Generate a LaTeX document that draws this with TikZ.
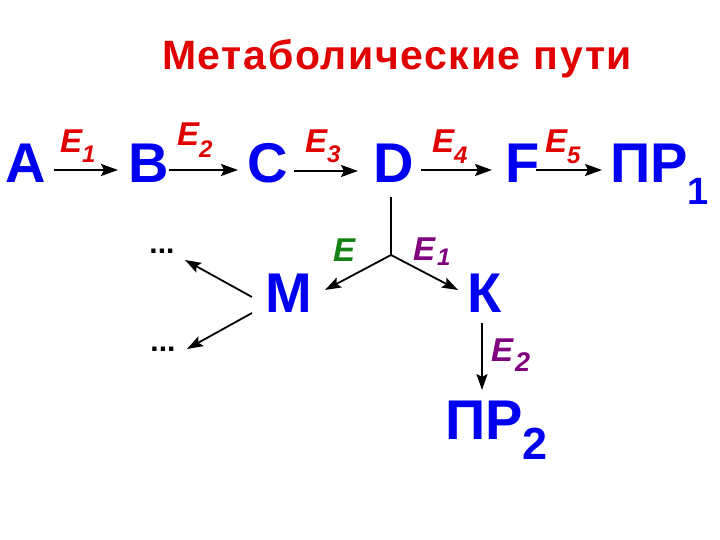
\documentclass[tikz,border=0pt]{standalone}
\usepackage{fontspec}
\setmainfont{Liberation Sans}
\usetikzlibrary{arrows.meta,calc}
\definecolor{cblue}{RGB}{0,0,240}
\definecolor{cred}{RGB}{225,0,0}
\definecolor{cgreen}{RGB}{20,130,20}
\definecolor{cpurple}{RGB}{128,0,128}
\begin{document}
\begin{tikzpicture}[x=1pt,y=1pt,
  big/.style={inner sep=0pt,anchor=base west,text=cblue,font=\fontsize{56}{56}\selectfont\bfseries},
  elab/.style={inner sep=0pt,anchor=base west,font=\fontsize{33}{33}\selectfont\bfseries\itshape},
  arr/.style={line width=2.3pt,-{Stealth[length=17pt,width=12pt,inset=3pt]}},
  thinarr/.style={line width=1.8pt,-{Stealth[length=16pt,width=11pt,inset=3pt]}},
  dots/.style={inner sep=0pt,font=\fontsize{30}{30}\selectfont\bfseries}]
\useasboundingbox (0,0) rectangle (720,540);
\fill[white] (0,0) rectangle (720,540);
% title
\node[inner sep=0pt,anchor=base west,text=cred,font=\fontsize{41}{41}\selectfont\bfseries\addfontfeatures{LetterSpace=4}] (title) at (162,470) {Метаболические пути};
% main chain
\node[big] (A) at (5,357) {A};
\node[big] (B) at (128,357) {B};
\node[big] (C) at (247,357) {C};
\node[big] (D) at (373,357) {D};
\node[big] (F) at (505,357) {F};
\node[big] (P1) at (610,357) {ПР\raisebox{-22pt}{\fontsize{38}{38}\selectfont 1}};
\node[big] (M) at (265,227) {М};
\node[big] (K) at (467,227) {К};
\node[big] (P2) at (445,100) {ПР\raisebox{-20pt}{\fontsize{45}{45}\selectfont 2}};
\node[dots] (d1) at (162,289) {...};
\node[dots] (d2) at (163,191) {...};
\coordinate (J) at ($(D.base west)+(18,-72)$);
% arrows
\draw[arr] ($(A.base east)+(8,13)$) -- ($(B.base west)+(-10,13)$);
\draw[arr] ($(B.base east)+(0,13)$) -- ($(C.base west)+(-9,13)$);
\draw[arr] ($(C.base east)+(6,12)$) -- ($(D.base west)+(-15,12)$);
\draw[arr] ($(D.base east)+(7,13)$) -- ($(F.base west)+(-13,13)$);
\draw[arr] ($(F.base east)+(-4,13)$) -- ($(P1.base west)+(-8,13)$);
\draw[line width=1.7pt] ($(D.base west)+(18,-14)$) -- (J);
\draw[thinarr] (J) -- ($(M.base east)+(13,23)$);
\draw[thinarr] (J) -- ($(K.base west)+(-9,23)$);
\draw[thinarr] ($(M.base west)+(-13,16)$) -- ($(d1.center)+(23,-9)$);
\draw[thinarr] ($(M.base west)+(-13,0)$) -- ($(d2.center)+(24,0)$);
\draw[thinarr] ($(K.base west)+(15,-10)$) -- ($(P2.base west)+(37,50)$);
% enzyme labels
\node[elab,text=cred] (e1) at (60,387) {E\raisebox{-10pt}{\fontsize{24}{24}\selectfont 1}};
\node[elab,text=cred] (e2) at (177,394) {E\raisebox{-12pt}{\fontsize{24}{24}\selectfont 2}};
\node[elab,text=cred] (e3) at (305,387) {E\raisebox{-10pt}{\fontsize{24}{24}\selectfont 3}};
\node[elab,text=cred] (e4) at (432,387) {E\raisebox{-11pt}{\fontsize{24}{24}\selectfont 4}};
\node[elab,text=cred] (e5) at (545,387) {E\raisebox{-11pt}{\fontsize{24}{24}\selectfont 5}};
\node[elab,text=cgreen] (eM) at (333,278) {E};
\node[elab,text=cpurple] (eK1) at (413,279) {E\hspace{2pt}\raisebox{-5pt}{\fontsize{24}{24}\selectfont 1}};
\node[elab,text=cpurple] (eK2) at (491,178) {E\hspace{2pt}\raisebox{-10pt}{\fontsize{27}{27}\selectfont 2}};
\end{tikzpicture}
\end{document}
